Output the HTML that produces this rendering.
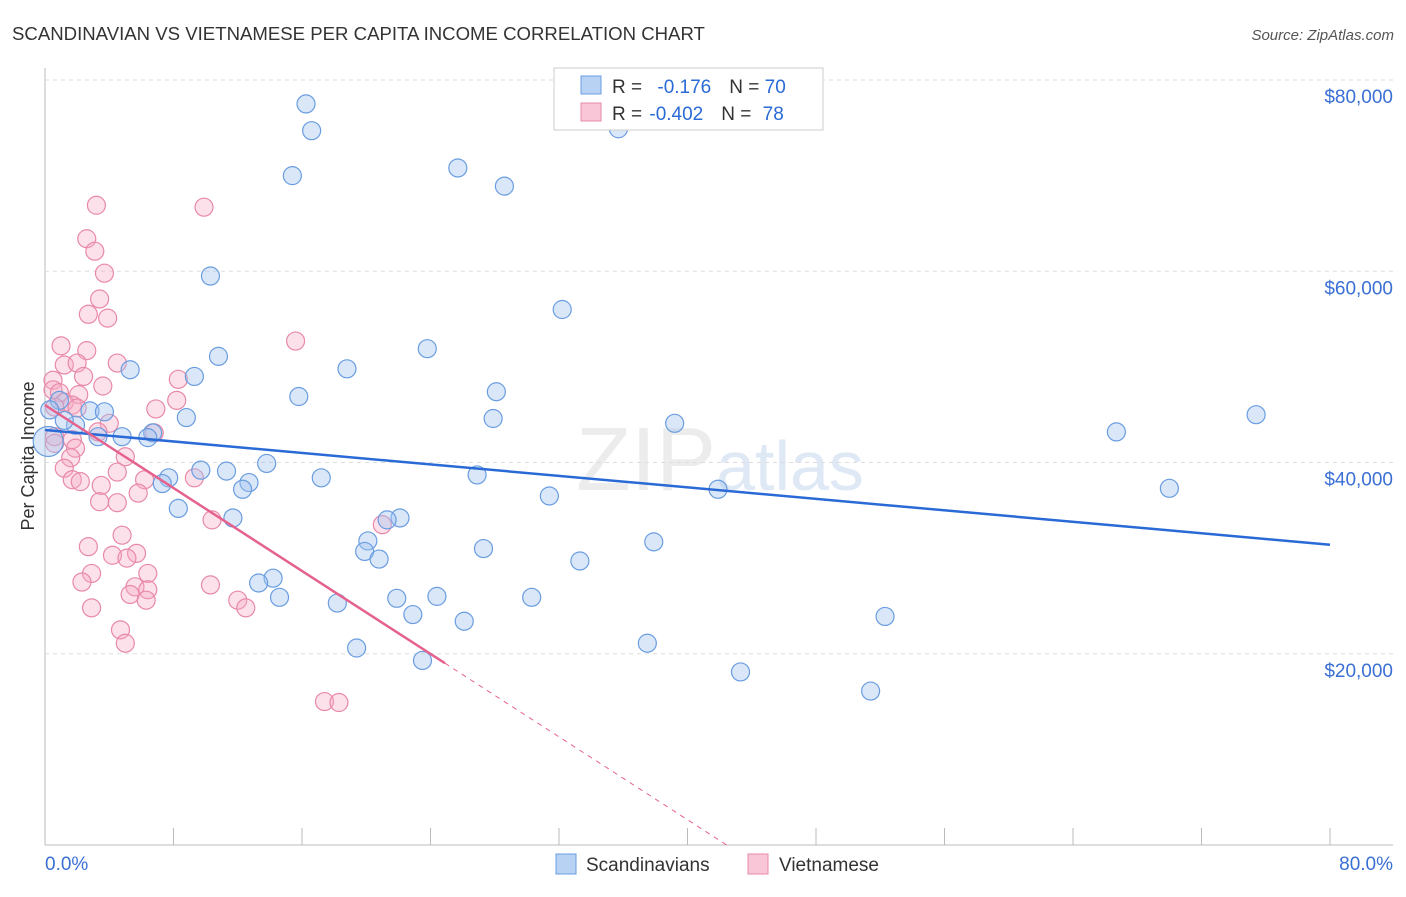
<!DOCTYPE html>
<html><head><meta charset="utf-8"><style>
body{margin:0;background:#fff;font-family:"Liberation Sans",sans-serif}
svg text{font-family:"Liberation Sans",sans-serif}
</style></head><body>
<svg id="c" width="1406" height="892">
<text x="12" y="40" font-size="18.6" fill="#333">SCANDINAVIAN VS VIETNAMESE PER CAPITA INCOME CORRELATION CHART</text>
<text x="1394" y="40" font-size="15" fill="#555" text-anchor="end" font-style="italic">Source: ZipAtlas.com</text>
<text x="720" y="490" font-size="90" fill="#ececec" text-anchor="middle" font-family="Liberation Serif">ZIP<tspan fill="#dfe8f5" font-family="Liberation Sans" font-size="70">atlas</tspan></text>
<text x="34" y="456" font-size="18" fill="#333" text-anchor="middle" transform="rotate(-90 34 456)">Per Capita Income</text>
<g id="grid"></g><g id="pts"></g><g id="lines"></g>
<g>
<rect x="554" y="68" width="269" height="62" fill="#fff" stroke="#ccc"/>
<rect x="581" y="76" width="20" height="18" fill="#b8d2f4" stroke="#6a9de0"/>
<rect x="581" y="103" width="20" height="18" fill="#f8c6d6" stroke="#e889a8"/>
<text x="612" y="93" font-size="19" fill="#333">R = <tspan fill="#2a6ad6" dx="10">-0.176</tspan><tspan dx="18" fill="#333">N = </tspan><tspan fill="#2a6ad6">70</tspan></text>
<text x="612" y="120" font-size="19" fill="#333">R = <tspan fill="#2a6ad6" dx="2">-0.402</tspan><tspan dx="18" fill="#333">N = </tspan><tspan fill="#2a6ad6" dx="6">78</tspan></text>
</g>
<g>
<rect x="556" y="854" width="20" height="20" fill="#b8d2f4" stroke="#6a9de0"/>
<text x="586" y="871" font-size="19" fill="#333">Scandinavians</text>
<rect x="748" y="854" width="20" height="20" fill="#f8c6d6" stroke="#e889a8"/>
<text x="779" y="871" font-size="19" fill="#333">Vietnamese</text>
</g>
</svg>
<script>
const yTicks=[20000,40000,60000,80000];
const yTickLabels=["$20,000","$40,000","$60,000","$80,000"];
const xTickLabels=["0.0%","80.0%"];
const blueX=[16.25,16.6,35.7,15.4,25.7,28.6,10.3,32.2,23.8,10.8,5.3,9.3,18.8,28.1,15.8,0.9,2.8,3.7,8.8,27.9,39.2,75.4,66.7,1.9,3.3,4.8,6.7,6.4,13.8,9.7,11.3,7.7,7.3,17.2,26.9,12.7,12.3,41.9,70.0,31.4,8.3,11.7,22.1,21.3,20.1,37.9,27.3,19.9,20.8,33.3,14.2,13.3,14.6,21.9,24.4,30.3,18.2,22.9,26.1,52.3,37.5,19.4,23.5,43.3,51.4,1.2,0.3,0.2];
const blueY=[77.5,74.7,74.9,70.0,70.8,68.9,59.5,56.0,51.9,51.1,49.7,49.0,49.8,47.4,46.9,46.5,45.4,45.3,44.7,44.6,44.1,45.0,43.2,43.9,42.7,42.7,43.1,42.6,39.9,39.2,39.1,38.4,37.8,38.4,38.7,37.9,37.2,37.2,37.3,36.5,35.2,34.2,34.2,34.0,31.8,31.7,31.0,30.7,29.9,29.7,27.9,27.4,25.9,25.8,26.0,25.9,25.3,24.1,23.4,23.9,21.1,20.6,19.3,18.1,16.1,44.4,45.5,42.2];
const pinkX=[1.0,2.6,1.2,2.0,2.4,4.5,3.6,8.3,8.2,6.9,0.5,0.5,0.9,2.1,1.2,1.7,2.0,0.6,4.0,3.3,1.7,0.6,0.6,1.9,1.6,1.2,1.7,2.2,5.0,4.5,3.5,6.2,5.8,3.4,4.5,9.3,10.4,4.8,2.7,4.2,5.7,5.1,2.9,2.3,6.4,5.6,5.3,6.4,6.3,2.9,10.3,4.7,5.0,12.0,12.5,21.0,17.4,18.3,3.2,9.9,2.6,3.1,3.7,3.4,2.7,3.9,15.6,6.8];
const pinkY=[52.2,51.7,50.2,50.4,49.0,50.4,48.0,48.7,46.5,45.6,48.6,47.6,47.3,47.1,46.3,46.0,45.7,45.8,44.1,43.2,42.4,42.7,42.0,41.5,40.5,39.4,38.2,38.0,40.6,39.0,37.6,38.2,36.8,35.9,35.8,38.4,34.0,32.4,31.2,30.3,30.5,30.0,28.4,27.5,28.4,27.0,26.2,26.7,25.6,24.8,27.2,22.5,21.1,25.6,24.8,33.5,15.0,14.9,66.9,66.7,63.4,62.1,59.8,57.1,55.5,55.1,52.7,43.1];
const blueTrend=[43.4,31.4];
const pinkTrend=[46.0,-1.084];
const X=v=>45+v/80*1285;
const Y=v=>845-v/20000*191.25;
const NS="http://www.w3.org/2000/svg";
function mk(tag,attrs,parent){const e=document.createElementNS(NS,tag);for(const k in attrs)e.setAttribute(k,attrs[k]);document.getElementById(parent).appendChild(e);return e;}
let ax=mk('line',{x1:45,y1:68,x2:45,y2:845,stroke:'#bbb'},'grid');


ax=mk('line',{x1:45,y1:845,x2:1393,y2:845,stroke:'#bbb'},'grid');


for(let i=0;i<=10;i++){const t=mk('line',{x1:X(i*8),x2:X(i*8),y1:828,y2:845,stroke:'#bbb'},'grid');

}
yTicks.forEach((v,i)=>{const g=mk('line',{x1:45,x2:1393,y1:Y(v),y2:Y(v),stroke:'#ddd','stroke-dasharray':'4,4'},'grid');


const t=mk('text',{x:1393,y:Y(v)+23,'font-size':19,fill:'#3a6fd4','text-anchor':'end'},'grid');t.textContent=yTickLabels[i];

});
[[0,'start',45],[80,'end',1393]].forEach((a,i)=>{const t=mk('text',{x:a[2],y:870,'font-size':19,fill:'#3a6fd4','text-anchor':a[1]},'grid');t.textContent=xTickLabels[i];

});
pinkX.forEach((x,i)=>{const c=mk('circle',{cx:X(x),cy:Y(pinkY[i]*1000),r:9,fill:'rgba(245,170,195,0.35)',stroke:'#e889a8','stroke-width':1.2},'pts');

});
blueX.forEach((x,i)=>{const c=mk('circle',{cx:X(x),cy:Y(blueY[i]*1000),r:i==blueX.length-1?15:9,fill:'rgba(160,196,240,0.4)',stroke:'#6a9de0','stroke-width':1.2},'pts');

});
let l=mk('line',{x1:X(0),y1:Y(blueTrend[0]*1000),x2:X(80),y2:Y(blueTrend[1]*1000),stroke:'#2a6ad6','stroke-width':2.5},'lines');


const pf=x=>pinkTrend[0]+pinkTrend[1]*x;
const xEnd=-pinkTrend[0]/pinkTrend[1];
l=mk('line',{x1:X(0),y1:Y(pf(0)*1000),x2:X(24.9),y2:Y(pf(24.9)*1000),stroke:'#e5628e','stroke-width':2.5},'lines');


l=mk('line',{x1:X(24.9),y1:Y(pf(24.9)*1000),x2:X(xEnd),y2:Y(0),stroke:'#e5628e','stroke-width':1,'stroke-dasharray':'5,5'},'lines');


</script>
</body></html>
